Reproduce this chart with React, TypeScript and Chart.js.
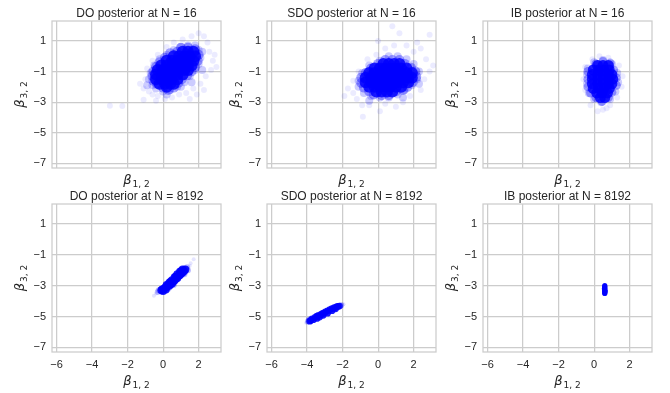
import React, { useEffect, useRef } from "react";
import { Chart, registerables } from "chart.js";

Chart.register(...registerables);

type P = [number, number];

const xTickValues = [-6, -4, -2, 0, 2];
const yTickValues = [1, -1, -3, -5, -7];
const xRange = [-6.26, 3.26];
const yRange = [-7.3, 2.3];

const panelTitles = [
  "DO posterior at N = 16",
  "SDO posterior at N = 16",
  "IB posterior at N = 16",
  "DO posterior at N = 8192",
  "SDO posterior at N = 8192",
  "IB posterior at N = 8192",
];

// ---- DO, N = 16 ----
const doN16Core: P[] = [
  [1.1, 0.3], [1.4, 0.3], [1.7, 0.3],
  [0.6, 0.0], [0.9, 0.0], [1.2, 0.0], [1.5, 0.0], [1.8, 0.0],
  [0.2, -0.3], [0.5, -0.3], [0.8, -0.3], [1.1, -0.3], [1.4, -0.3], [1.7, -0.3],
  [-0.1, -0.6], [0.2, -0.6], [0.5, -0.6], [0.8, -0.6], [1.1, -0.6], [1.4, -0.6], [1.6, -0.6],
  [-0.3, -0.9], [0.0, -0.9], [0.3, -0.9], [0.6, -0.9], [0.9, -0.9], [1.2, -0.9], [1.4, -0.9],
  [-0.4, -1.2], [-0.1, -1.2], [0.2, -1.2], [0.5, -1.2], [0.8, -1.2], [1.1, -1.2],
  [-0.4, -1.5], [-0.1, -1.5], [0.2, -1.5], [0.5, -1.5], [0.8, -1.5],
  [-0.2, -1.8], [0.1, -1.8], [0.4, -1.8], [0.6, -1.8],
  [0.2, -2.0],
];
const doN16Ring: P[] = [
  [-0.6, -1.3], [-0.55, -1.0], [-0.4, -0.7], [-0.2, -0.4], [0.1, -0.1], [0.4, 0.2],
  [0.8, 0.3], [1.0, 0.55], [1.4, 0.55], [1.8, 0.45], [2.0, 0.1], [1.95, -0.3],
  [1.8, -0.7], [1.6, -1.0], [1.35, -1.25], [1.05, -1.5], [0.85, -1.75], [0.6, -2.05],
  [0.3, -2.2], [0.0, -2.05], [-0.35, -1.8], [-0.55, -1.6],
];
const doN16Mid: P[] = [
  [-0.8, -1.5], [-0.7, -1.1], [-0.6, -1.9], [-0.4, -2.1], [0.0, -2.3], [0.4, -2.2],
  [0.8, -2.0], [1.2, -1.7], [1.5, -1.3], [1.8, -0.9], [2.0, -0.5], [2.1, -0.1],
  [2.0, 0.4], [1.8, 0.7], [1.4, 0.7], [1.0, 0.6], [0.6, 0.4], [0.2, 0.1],
  [-0.2, -0.2], [-0.5, -0.6], [1.0, -2.0], [0.2, -2.5], [2.2, -0.9], [1.6, -1.7],
  [-0.9, -1.9], [2.2, 0.3],
];
const doN16Halo: P[] = [
  [-1.3, -1.8], [-1.1, -2.1], [-1.0, -1.5], [-0.9, -0.8], [-0.8, -2.3], [-0.6, -2.5],
  [-0.3, -2.6], [0.1, -2.8], [0.5, -2.7], [0.9, -2.5], [1.3, -2.4], [1.7, -2.1],
  [2.1, -1.8], [2.4, -1.3], [2.7, -0.9], [3.0, -0.7], [2.8, -0.3], [2.6, 0.3],
  [2.5, 0.9], [2.3, 1.3], [2.0, 1.5], [1.6, 1.3], [1.1, 1.1], [0.6, 0.9],
  [0.2, 0.6], [-0.3, 0.1], [-0.6, -0.3], [-2.3, -3.25], [-1.1, -2.85], [1.9, -2.5],
  [2.3, -2.2], [-0.4, -2.9], [1.5, -2.8], [2.9, 0.1], [-3.0, -3.24],
];

// ---- SDO, N = 16 ----
const sdoN16Core: P[] = [
  [0.3, -0.5], [0.6, -0.5], [0.9, -0.5], [1.2, -0.5],
  [-0.2, -0.8], [0.1, -0.8], [0.4, -0.8], [0.7, -0.8], [1.0, -0.8], [1.3, -0.8], [1.6, -0.8],
  [-0.5, -1.1], [-0.2, -1.1], [0.1, -1.1], [0.4, -1.1], [0.7, -1.1], [1.0, -1.1], [1.3, -1.1], [1.6, -1.1], [1.9, -1.1],
  [-0.7, -1.4], [-0.4, -1.4], [-0.1, -1.4], [0.2, -1.4], [0.5, -1.4], [0.8, -1.4], [1.1, -1.4], [1.4, -1.4], [1.7, -1.4], [1.9, -1.4],
  [-0.7, -1.7], [-0.4, -1.7], [-0.1, -1.7], [0.2, -1.7], [0.5, -1.7], [0.8, -1.7], [1.1, -1.7], [1.4, -1.7], [1.7, -1.7],
  [-0.5, -2.0], [-0.2, -2.0], [0.1, -2.0], [0.4, -2.0], [0.7, -2.0], [1.0, -2.0], [1.3, -2.0],
  [-0.1, -2.3], [0.2, -2.3], [0.5, -2.3], [0.8, -2.3],
];
const sdoN16Ring: P[] = [
  [-0.95, -1.4], [-0.95, -1.75], [-0.8, -2.05], [-0.5, -2.3], [-0.25, -2.5], [0.2, -2.55],
  [0.6, -2.55], [1.0, -2.3], [1.4, -2.2], [1.65, -2.0], [1.95, -1.7], [2.15, -1.35],
  [2.1, -1.0], [1.85, -0.75], [1.5, -0.5], [1.2, -0.25], [0.8, -0.25], [0.4, -0.25],
  [0.0, -0.5], [-0.4, -0.8], [-0.7, -1.1],
];
const sdoN16Mid: P[] = [
  [-1.1, -1.6], [-1.1, -2.0], [-0.9, -1.1], [-0.8, -2.4], [-0.4, -2.6], [0.1, -2.7],
  [0.6, -2.7], [1.1, -2.5], [1.5, -2.2], [1.9, -1.9], [2.2, -1.5], [2.3, -1.0],
  [2.0, -0.5], [1.6, -0.2], [1.1, 0.0], [0.6, 0.0], [0.1, -0.3], [-0.5, -0.6],
  [2.3, -1.8], [-0.5, -2.9], [1.4, -2.7],
];
const sdoN16Halo: P[] = [
  [-1.7, -2.1], [-1.4, -2.4], [-1.4, -1.6], [-1.2, -2.8], [-1.1, -1.0], [-0.9, -3.2],
  [-0.86, -3.95], [-0.5, -3.2], [0.1, -3.6], [0.4, -3.1], [1.0, -3.3], [1.4, -3.0],
  [1.8, -2.6], [2.4, -2.2], [2.6, -1.5], [2.9, -1.0], [3.1, -0.6], [2.7, -0.2],
  [2.9, 1.4], [2.4, 0.5], [2.0, 0.3], [1.6, 0.7], [1.2, 1.5], [0.8, 1.95],
  [0.9, 0.7], [0.4, 0.5], [-0.1, 0.1], [-0.6, -0.2], [2.2, 0.9], [-1.9, -2.6], [0.0, 1.0],
];

// ---- IB, N = 16 ----
const ibN16Core: P[] = [
  [0.2, -0.6], [0.5, -0.6], [0.8, -0.6],
  [-0.05, -0.9], [0.25, -0.9], [0.55, -0.9], [0.85, -0.9],
  [-0.1, -1.2], [0.2, -1.2], [0.5, -1.2], [0.8, -1.2], [1.0, -1.2],
  [-0.1, -1.5], [0.2, -1.5], [0.5, -1.5], [0.8, -1.5], [1.05, -1.5],
  [-0.1, -1.8], [0.2, -1.8], [0.5, -1.8], [0.8, -1.8], [1.0, -1.8],
  [-0.05, -2.1], [0.25, -2.1], [0.55, -2.1], [0.85, -2.1],
  [0.15, -2.4], [0.45, -2.4], [0.75, -2.4],
  [0.35, -2.7], [0.6, -2.7],
];
const ibN16Ring: P[] = [
  [-0.35, -1.0], [-0.35, -1.5], [-0.35, -2.0], [-0.2, -2.4], [0.1, -2.7], [0.45, -2.95],
  [0.8, -2.7], [1.0, -2.35], [1.25, -1.9], [1.25, -1.4], [1.1, -0.9], [0.9, -0.45],
  [0.5, -0.35], [0.1, -0.5],
];
const ibN16Mid: P[] = [
  [-0.4, -1.2], [-0.4, -1.8], [-0.3, -2.4], [0.0, -0.4], [0.5, -0.25], [1.0, -0.5],
  [1.3, -1.1], [1.35, -1.7], [1.2, -2.3], [0.9, -2.8], [0.4, -3.0], [0.0, -2.8], [-0.35, -0.8],
];
const ibN16Halo: P[] = [
  [-0.6, -1.5], [-0.5, -2.2], [-0.5, -0.7], [0.3, 0.0], [0.8, -0.1], [1.4, -0.6],
  [1.6, -1.3], [1.55, -2.0], [1.3, -2.7], [0.9, -3.2], [0.5, -3.5], [0.2, -3.6],
  [-0.2, -3.2], [0.7, -3.4], [-0.1, -0.2],
];

// ---- DO, N = 8192 ----
const doN8192Core: P[] = [
  [-0.1, -3.3], [0.05, -3.2], [0.2, -3.1], [0.2, -2.95], [0.35, -3.0], [0.35, -2.8],
  [0.5, -2.85], [0.5, -2.65], [0.65, -2.65], [0.65, -2.45], [0.8, -2.5], [0.8, -2.25],
  [0.95, -2.3], [0.95, -2.1], [1.1, -2.15], [1.1, -1.95], [1.25, -1.95], [0.0, -3.35], [0.15, -3.25],
  [0.12, -3.12], [0.28, -2.95], [0.42, -2.9], [0.58, -2.72], [0.72, -2.55], [0.88, -2.35],
  [1.02, -2.2], [1.18, -2.05], [-0.05, -3.25], [0.42, -2.75], [0.72, -2.4], [1.02, -2.05],
];
const doN8192Mid: P[] = [
  [-0.3, -3.4], [-0.25, -3.3], [1.35, -1.8], [1.4, -2.0], [1.2, -2.25], [0.6, -2.95], [0.3, -3.2],
];
const doN8192Halo: P[] = [
  [-0.52, -3.65], [1.72, -1.28], [1.55, -1.55], [-0.4, -3.5], [1.5, -1.7],
];

// ---- SDO, N = 8192 ----
const sdoN8192Core: P[] = [
  [-3.8, -5.25], [-3.65, -5.2], [-3.55, -5.05], [-3.45, -5.12], [-3.35, -4.92], [-3.3, -5.03],
  [-3.1, -4.78], [-3.1, -4.92], [-2.85, -4.63], [-2.85, -4.78], [-2.6, -4.48], [-2.6, -4.62],
  [-2.35, -4.37], [-2.4, -4.5], [-2.18, -4.32], [-3.85, -5.3],
  [-3.72, -5.15], [-3.45, -4.98], [-3.2, -4.85], [-2.97, -4.7], [-2.72, -4.55], [-2.47, -4.43], [-2.27, -4.35],
];
const sdoN8192Mid: P[] = [
  [-3.95, -5.32], [-2.08, -4.26], [-3.9, -5.2],
];
const sdoN8192Halo: P[] = [
  [-4.05, -5.4], [-1.95, -4.2],
];

// ---- IB, N = 8192 ----
const ibN8192Core: P[] = [
  [0.6, -3.0], [0.6, -3.06], [0.6, -3.13], [0.6, -3.2], [0.6, -3.26], [0.6, -3.33],
  [0.6, -3.39], [0.6, -3.45], [0.6, -3.5], [0.58, -3.2], [0.62, -3.35],
];

interface Layer { pts: P[]; r: number; a: number; }
interface Panel {
  title: string; left: number; top: number; right: number; bottom: number;
  bottomRow: boolean; layers: Layer[];
}

const colLefts = [52, 267, 483];
const colRights = [221, 436, 652];
const rowTops = [21, 204];
const rowBottoms = [168, 352];

const layerSets: Layer[][] = [
  [{ pts: doN16Halo, r: 3, a: 0.08 }, { pts: doN16Mid, r: 4, a: 0.2 }, { pts: doN16Ring, r: 5, a: 0.35 }, { pts: doN16Core, r: 6, a: 0.85 }],
  [{ pts: sdoN16Halo, r: 3, a: 0.08 }, { pts: sdoN16Mid, r: 4, a: 0.2 }, { pts: sdoN16Ring, r: 5, a: 0.35 }, { pts: sdoN16Core, r: 6, a: 0.85 }],
  [{ pts: ibN16Halo, r: 3, a: 0.08 }, { pts: ibN16Mid, r: 4, a: 0.2 }, { pts: ibN16Ring, r: 4.5, a: 0.35 }, { pts: ibN16Core, r: 5.5, a: 0.85 }],
  [{ pts: doN8192Halo, r: 2, a: 0.1 }, { pts: doN8192Mid, r: 3, a: 0.25 }, { pts: doN8192Core, r: 4, a: 0.9 }],
  [{ pts: sdoN8192Halo, r: 2, a: 0.12 }, { pts: sdoN8192Mid, r: 3, a: 0.3 }, { pts: sdoN8192Core, r: 3.4, a: 0.9 }],
  [{ pts: ibN8192Core, r: 2.6, a: 0.95 }],
];

const panels: Panel[] = panelTitles.map((title, i) => {
  const c = i % 3;
  const r = Math.floor(i / 3);
  return {
    title,
    left: colLefts[c], right: colRights[c], top: rowTops[r], bottom: rowBottoms[r],
    bottomRow: r === 1, layers: layerSets[i],
  };
});

const W = 670;
const H = 393;
const Y_AXIS_W = 44;
const X_AXIS_H = 24;
const TEXT = "#262626";
const GRID = "#cccccc";
const SANS = "'Liberation Sans', Arial, sans-serif";

function drawBeta(ctx: CanvasRenderingContext2D, cx: number, cy: number, sub: string, rotate: boolean) {
  ctx.save();
  ctx.translate(cx, cy);
  if (rotate) ctx.rotate(-Math.PI / 2);
  const mainFont = "italic 13px 'DejaVu Sans', sans-serif";
  const subFont = "9px 'DejaVu Sans', sans-serif";
  ctx.font = mainFont;
  const w1 = ctx.measureText("\u03b2").width;
  ctx.font = subFont;
  const w2 = ctx.measureText(sub).width;
  const total = w1 + 1 + w2;
  ctx.fillStyle = TEXT;
  ctx.textBaseline = "alphabetic";
  ctx.textAlign = "left";
  ctx.font = mainFont;
  ctx.fillText("\u03b2", -total / 2, 4);
  ctx.font = subFont;
  ctx.fillText(sub, -total / 2 + w1 + 1, 7);
  ctx.restore();
}

const decorPlugin = {
  id: "decor",
  beforeDatasetsDraw(chart: any) {
    const { ctx, chartArea: a } = chart;
    ctx.save();
    ctx.strokeStyle = GRID;
    ctx.lineWidth = 1.25;
    ctx.strokeRect(a.left, a.top, a.right - a.left, a.bottom - a.top);
    ctx.restore();
  },
  afterDraw(chart: any, _args: any, opts: any) {
    const { ctx, chartArea: a } = chart;
    const cx = (a.left + a.right) / 2;
    const cy = (a.top + a.bottom) / 2;
    ctx.save();
    ctx.fillStyle = TEXT;
    ctx.font = `12px ${SANS}`;
    ctx.textAlign = "center";
    ctx.textBaseline = "alphabetic";
    ctx.fillText(opts.title, cx, a.top - 4.5);
    ctx.restore();
    const xLabelY = opts.bottomRow ? a.bottom + 29 : a.bottom + 12;
    drawBeta(ctx, cx, xLabelY, "1, 2", false);
    drawBeta(ctx, a.left - 32, cy, "3, 2", true);
  },
};

function fmt(v: number) {
  return String(v).replace("-", "\u2212");
}

export default function App() {
  const refs = useRef<(HTMLCanvasElement | null)[]>([]);

  useEffect(() => {
    const charts: Chart[] = [];
    panels.forEach((p, i) => {
      const cv = refs.current[i];
      if (!cv) return;
      const ch = new Chart(cv, {
        type: "scatter",
        data: {
          datasets: p.layers.map((l) => ({
            data: l.pts.map(([x, y]) => ({ x, y })),
            pointRadius: l.r,
            pointHoverRadius: l.r,
            pointBorderWidth: 0,
            borderWidth: 0,
            backgroundColor: `rgba(0,0,255,${l.a})`,
            pointBackgroundColor: `rgba(0,0,255,${l.a})`,
          })),
        },
        options: {
          responsive: false,
          animation: false,
          devicePixelRatio: 1,
          events: [],
          layout: {
            padding: {
              left: p.left - Y_AXIS_W,
              top: p.top,
              right: W - p.right,
              bottom: H - p.bottom - X_AXIS_H,
            },
          },
          plugins: {
            legend: { display: false },
            tooltip: { enabled: false },
            decor: { title: p.title, bottomRow: p.bottomRow },
          } as any,
          scales: {
            x: {
              type: "linear",
              min: xRange[0],
              max: xRange[1],
              afterFit: (s: any) => { s.height = X_AXIS_H; },
              afterBuildTicks: (s: any) => { s.ticks = xTickValues.map((v) => ({ value: v })); },
              ticks: {
                display: p.bottomRow,
                padding: 6,
                color: TEXT,
                font: { family: SANS, size: 11 },
                maxRotation: 0,
                minRotation: 0,
                autoSkip: false,
                callback: (v: any) => fmt(Number(v)),
              },
              grid: { color: GRID, lineWidth: 1.25, drawTicks: false },
              border: { display: false },
            },
            y: {
              type: "linear",
              min: yRange[0],
              max: yRange[1],
              afterFit: (s: any) => { s.width = Y_AXIS_W; },
              afterBuildTicks: (s: any) => { s.ticks = yTickValues.map((v) => ({ value: v })); },
              ticks: {
                padding: 6,
                color: TEXT,
                autoSkip: false,
                font: { family: SANS, size: 11 },
                callback: (v: any) => fmt(Number(v)),
              },
              grid: { color: GRID, lineWidth: 1.25, drawTicks: false },
              border: { display: false },
            },
          },
        },
        plugins: [decorPlugin],
      });
      charts.push(ch);
    });
    return () => charts.forEach((c) => c.destroy());
  }, []);

  return (
    <div style={{ position: "absolute", left: 0, top: 0, width: W, height: H, background: "#fff" }}>
      {panels.map((p, i) => (
        <canvas
          key={i}
          ref={(el) => { refs.current[i] = el; }}
          width={W}
          height={H}
          style={{ position: "absolute", left: 0, top: 0, width: W, height: H }}
        />
      ))}
    </div>
  );
}
